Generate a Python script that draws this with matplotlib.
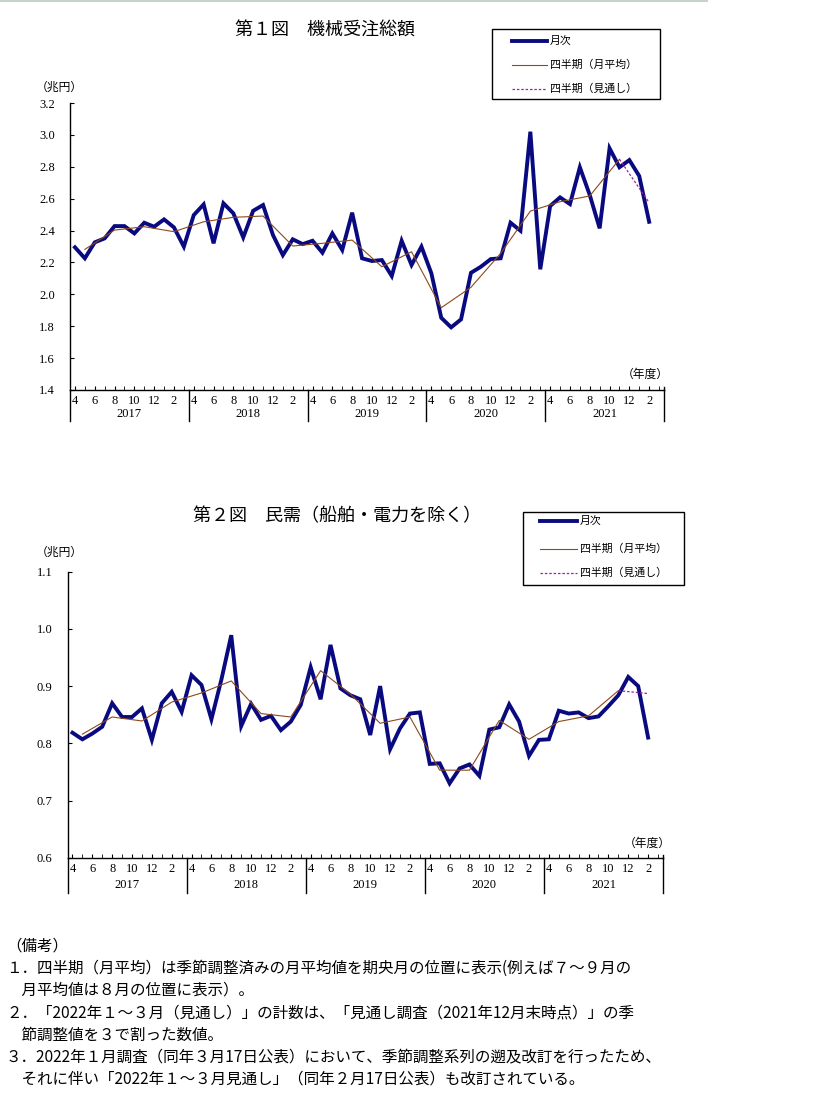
import matplotlib
matplotlib.use("Agg")
import matplotlib.pyplot as plt
from matplotlib.lines import Line2D
from matplotlib.patches import Rectangle
import matplotlib.transforms as mtransforms

plt.rcParams['font.family'] = ['Noto Sans CJK JP', 'DejaVu Sans']

# ---------------- data ----------------
years = ["2017", "2018", "2019", "2020", "2021"]
month_labels = ["4", "6", "8", "10", "12", "2"]

total_monthly = [2.295, 2.226, 2.326, 2.351, 2.428, 2.428, 2.382, 2.449, 2.424, 2.470, 2.420, 2.299,
                 2.497, 2.564, 2.320, 2.571, 2.508, 2.357, 2.524, 2.560, 2.372, 2.246, 2.345, 2.315,
                 2.336, 2.261, 2.382, 2.278, 2.512, 2.226, 2.209, 2.215, 2.115, 2.336, 2.184, 2.299,
                 2.132, 1.853, 1.793, 1.843, 2.135, 2.173, 2.221, 2.226, 2.449, 2.399, 3.020, 2.157,
                 2.554, 2.608, 2.566, 2.797, 2.623, 2.414, 2.916, 2.797, 2.842, 2.742, 2.455]
total_quarter = [2.282, 2.403, 2.424, 2.393, 2.455, 2.483, 2.491, 2.303, 2.320, 2.340,
                 2.173, 2.267, 1.916, 2.044, 2.257, 2.522, 2.581, 2.617, 2.847]
total_outlook = [2.847, 2.575]

private_monthly = [0.8185, 0.807, 0.817, 0.829, 0.870, 0.846, 0.846, 0.861, 0.806, 0.870, 0.890, 0.855,
                   0.919, 0.902, 0.842, 0.911, 0.989, 0.830, 0.869, 0.841, 0.848, 0.823, 0.838, 0.867,
                   0.933, 0.877, 0.972, 0.896, 0.884, 0.877, 0.8145, 0.900, 0.7895, 0.826, 0.852, 0.854,
                   0.764, 0.765, 0.730, 0.756, 0.763, 0.743, 0.824, 0.828, 0.868, 0.838, 0.778, 0.806,
                   0.807, 0.857, 0.852, 0.854, 0.844, 0.847, 0.865, 0.884, 0.916, 0.900, 0.810]
private_quarter = [0.816, 0.846, 0.839, 0.872, 0.888, 0.909, 0.852, 0.846, 0.927, 0.886,
                   0.835, 0.846, 0.753, 0.753, 0.840, 0.807, 0.838, 0.848, 0.892]
private_outlook = [0.892, 0.887]

legend_labels = ["月次", "四半期（月平均）", "四半期（見通し）"]

notes = [
    "（備考）",
    "１．四半期（月平均）は季節調整済みの月平均値を期央月の位置に表示(例えば７～９月の",
    "　月平均値は８月の位置に表示）。",
    "２．「2022年１～３月（見通し）」の計数は、「見通し調査（2021年12月末時点）」の季",
    "　節調整値を３で割った数値。",
    "３．2022年１月調査（同年３月17日公表）において、季節調整系列の遡及改訂を行ったため、",
    "　それに伴い「2022年１～３月見通し」（同年２月17日公表）も改訂されている。",
]

# ---------------- layout helpers ----------------
W, H = 819, 1099
fig = plt.figure(figsize=(W / 100, H / 100), dpi=100)


def fx(x):
    return x / W


def fy(y):
    return 1 - y / H


NAVY = "#0a0a80"
BROWN = "#8c4a1c"
PURPLE = "#a020a0"
DIGIT_FONT = ["Liberation Serif", "DejaVu Serif"]

n_months = len(total_monthly)
month_idx = list(range(n_months))
q_idx = [1 + 3 * k for k in range(len(total_quarter))]
o_idx = [q_idx[-1], q_idx[-1] + 3]


def make_chart(px_left, px_right, px_top, px_bottom, ylim, yticks, monthly, quarter, outlook,
               sep_len, mlab_pad, ylab_off, title, title_xy, legend_box, unit_xy, fy_xy):
    ax = fig.add_axes([fx(px_left), fy(px_bottom), fx(px_right - px_left), (px_bottom - px_top) / H])
    ax.set_xlim(-0.5, 59.5)
    ax.set_ylim(*ylim)
    for s in ["top", "right"]:
        ax.spines[s].set_visible(False)
    ax.spines["left"].set_linewidth(1.0)
    ax.spines["bottom"].set_linewidth(1.0)
    ax.plot(month_idx, monthly, color=NAVY, lw=2.8, solid_joinstyle="miter", zorder=3)
    ax.plot(q_idx, quarter, color=BROWN, lw=0.8, zorder=4)
    ax.plot(o_idx, outlook, color=PURPLE, lw=0.9, ls=(0, (2, 1.5)), zorder=4)

    ax.set_yticks(yticks)
    ax.set_yticklabels([f"{v:.1f}" for v in yticks], fontfamily=DIGIT_FONT, fontsize=9)
    ax.tick_params(axis="y", direction="in", length=3, pad=11)

    ax.set_xticks(range(60), minor=True)
    ax.set_xticks(range(0, 60, 2))
    ax.set_xticklabels(month_labels * 5, fontfamily=DIGIT_FONT, fontsize=9)
    ax.tick_params(axis="x", which="both", direction="in", length=3, pad=mlab_pad)

    trans = mtransforms.blended_transform_factory(ax.transData, ax.transAxes)
    h_ax = px_bottom - px_top
    for k in range(6):
        xs = -0.5 + 12 * k
        ax.plot([xs, xs], [0, -sep_len / h_ax], transform=trans, color="black", lw=1.0, clip_on=False)
    ax.plot([59.5, 59.5], [0, 3 / h_ax], transform=trans, color="black", lw=1.0, clip_on=False)
    for k, yr in enumerate(years):
        ax.text(5.5 + 12 * k, -ylab_off / h_ax, yr, transform=trans, ha="center", va="center",
                fontfamily=DIGIT_FONT, fontsize=9)

    fig.text(fx(title_xy[0]), fy(title_xy[1]), title, ha="center", va="center", fontsize=13)
    fig.text(fx(unit_xy[0]), fy(unit_xy[1]), "（兆円）", ha="left", va="center", fontsize=8.5)
    fig.text(fx(fy_xy[0]), fy(fy_xy[1]), "（年度）", ha="left", va="center", fontsize=8.5)

    # legend box
    lx0, ly0, lx1, ly1, line_x0, line_x1, rows = legend_box
    fig.add_artist(Rectangle((fx(lx0), fy(ly1)), fx(lx1 - lx0), (ly1 - ly0) / H,
                             transform=fig.transFigure, fill=False, ec="black", lw=1.0))
    styles = [dict(color=NAVY, lw=2.8), dict(color=BROWN, lw=0.8),
              dict(color=PURPLE, lw=0.9, ls=(0, (2, 1.5)))]
    for r, lab, st in zip(rows, legend_labels, styles):
        fig.add_artist(Line2D([fx(line_x0), fx(line_x1)], [fy(r), fy(r)], transform=fig.transFigure, **st))
        fig.text(fx(line_x1 + 3), fy(r), lab, ha="left", va="center", fontsize=7.8)
    return ax


make_chart(70, 664, 103, 390, (1.4, 3.2), [1.4 + 0.2 * i for i in range(10)],
           total_monthly, total_quarter, total_outlook,
           sep_len=31, mlab_pad=3.5, ylab_off=24,
           title="第１図　機械受注総額", title_xy=(325, 31),
           legend_box=(492, 29, 660, 99, 512, 547, (40.7, 64.7, 89)),
           unit_xy=(36, 87), fy_xy=(622, 374))

make_chart(67.5, 663, 571.7, 857.7, (0.6, 1.1), [0.6 + 0.1 * i for i in range(6)],
           private_monthly, private_quarter, private_outlook,
           sep_len=35, mlab_pad=3.5, ylab_off=27,
           title="第２図　民需（船舶・電力を除く）", title_xy=(337, 516),
           legend_box=(523, 512, 684, 585, 540, 577, (521, 549, 573)),
           unit_xy=(36, 552), fy_xy=(624, 843))

# notes
note_y = [946, 968, 990, 1013, 1035, 1057, 1079]
for t, y in zip(notes, note_y):
    fig.text(fx(6), fy(y), t, ha="left", va="center", fontsize=11.2)

# thin frame line at the top
fig.add_artist(Line2D([0, fx(707)], [fy(0.8), fy(0.8)], transform=fig.transFigure, color="#c8d2c8", lw=1.5))

fig.savefig("out.png", dpi=100, facecolor="white")
